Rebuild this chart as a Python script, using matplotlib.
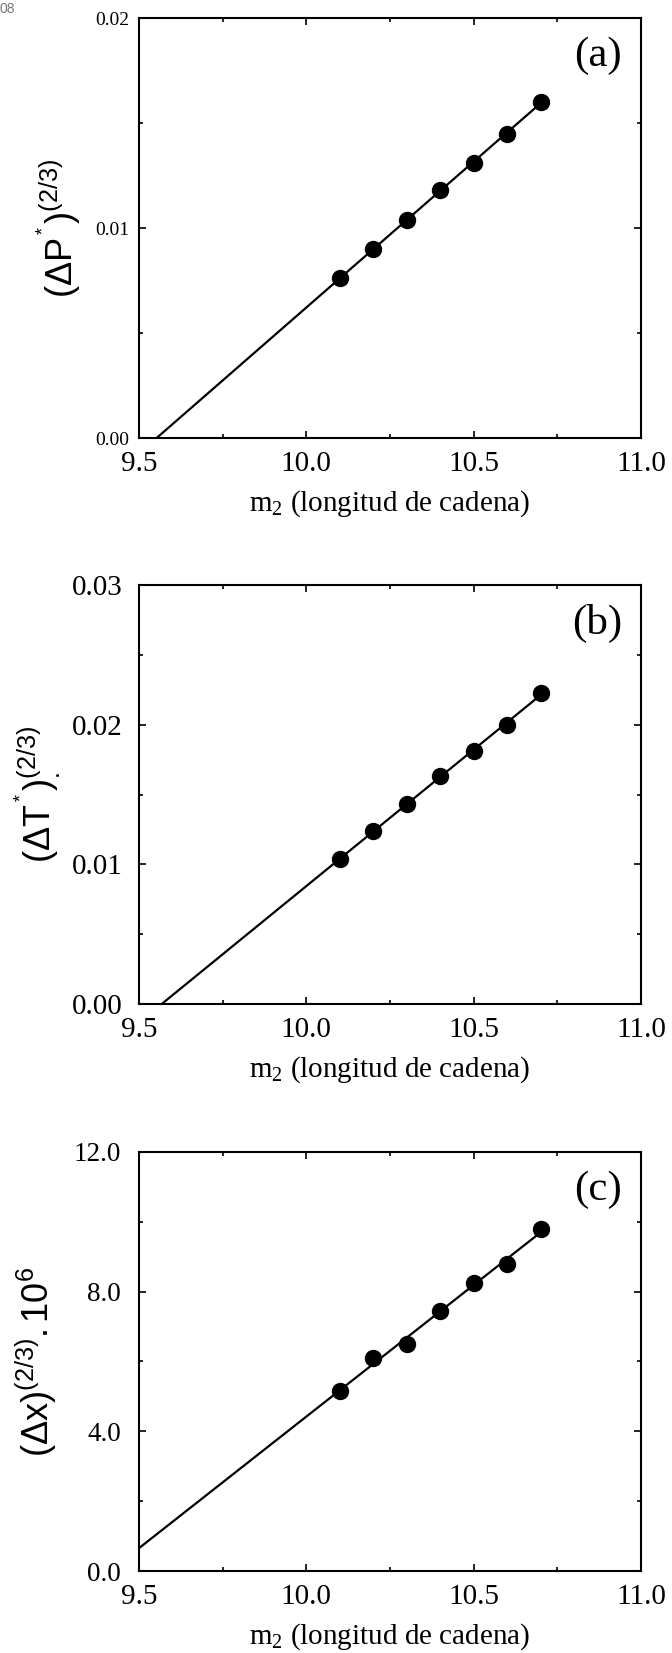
import numpy as np
import matplotlib
matplotlib.use("Agg")
import matplotlib.pyplot as plt
from matplotlib.ticker import MultipleLocator, FormatStrFormatter

plt.rcParams['font.family'] = ['Liberation Serif', 'DejaVu Serif']
plt.rcParams['mathtext.fontset'] = 'custom'
plt.rcParams['mathtext.rm'] = 'Liberation Serif'
plt.rcParams['mathtext.it'] = 'Liberation Serif:italic'
plt.rcParams['mathtext.sf'] = 'Liberation Sans'

# longitud de cadena
m2 = [10.1, 10.2, 10.3, 10.4, 10.5, 10.6, 10.7]

# (a) presion
dP = [0.0076, 0.0090, 0.0104, 0.0118, 0.0131, 0.0145, 0.0160]
# (b) temperatura
dT = [0.0104, 0.0124, 0.0143, 0.0163, 0.0181, 0.0200, 0.0223]
# (c) composicion x 1e6
dx = [5.15, 6.10, 6.50, 7.45, 8.25, 8.80, 9.80]

panels = [
    dict(y=dP, tag='(a)', ylim=(0, 0.02), major=0.01, minor=0.005, fmt='%.2f',
         ylabel=r'$\mathsf{(\Delta P^{^*})^{(2/3)}}$', tick_fs=14, ypad=7,
         ylx=-0.110, rect=[0.2068, 0.7350, 0.747, 0.2541]),
    dict(y=dT, tag='(b)', ylim=(0, 0.03), major=0.01, minor=0.005, fmt='%.2f',
         ylabel=r'$\mathsf{(\Delta T^{^*})_{.}^{(2/3)}}$', tick_fs=21, ypad=12,
         ylx=-0.150, rect=[0.2068, 0.3926, 0.747, 0.2535]),
    dict(y=dx, tag='(c)', ylim=(0, 12), major=4, minor=2, fmt='%.1f',
         ylabel=r'$\mathsf{(\Delta x)^{(2/3)}.10^6}$', tick_fs=19.5, ypad=13,
         ylx=-0.160, rect=[0.2068, 0.0496, 0.747, 0.2535]),
]

fig = plt.figure(figsize=(6.72, 16.53), dpi=100)
fig.text(0.0, 0.999, '08', fontsize=10, color='#777777', va='top', ha='left',
         family='Liberation Sans')

for p in panels:
    ax = fig.add_axes(p['rect'])
    x = np.array(m2)
    y = np.array(p['y'])
    # recta de ajuste
    k, b = np.polyfit(x, y, 1)
    x0 = max(9.5, -b / k)
    xl = np.array([x0, x.max()])
    ax.plot(xl, k * xl + b, color='black', lw=1.6)
    ax.plot(x, y, 'o', color='black', ms=11.5)

    ax.set_xlim(9.5, 11.0)
    ax.set_ylim(*p['ylim'])
    ax.xaxis.set_major_locator(MultipleLocator(0.5))
    ax.xaxis.set_minor_locator(MultipleLocator(0.25))
    ax.xaxis.set_major_formatter(FormatStrFormatter('%.1f'))
    ax.yaxis.set_major_locator(MultipleLocator(p['major']))
    ax.yaxis.set_minor_locator(MultipleLocator(p['minor']))
    ax.yaxis.set_major_formatter(FormatStrFormatter(p['fmt']))
    ax.tick_params(which='both', direction='in', top=True, right=True, width=1.2)
    ax.tick_params(which='major', length=5)
    ax.tick_params(which='minor', length=3)
    ax.tick_params(axis='x', labelsize=21, pad=9)
    ax.tick_params(axis='y', labelsize=p['tick_fs'], pad=p['ypad'])
    for s in ax.spines.values():
        s.set_linewidth(1.5)

    ax.set_xlabel(r'm$_2$ (longitud de cadena)', fontsize=21)
    ax.xaxis.set_label_coords(0.5, -0.12)
    ax.set_ylabel(p['ylabel'], fontsize=26)
    ax.yaxis.set_label_coords(p['ylx'], 0.5)
    ax.text(0.962, 0.955, p['tag'], transform=ax.transAxes, fontsize=31,
            ha='right', va='top')

fig.savefig('out.png', dpi=100)
